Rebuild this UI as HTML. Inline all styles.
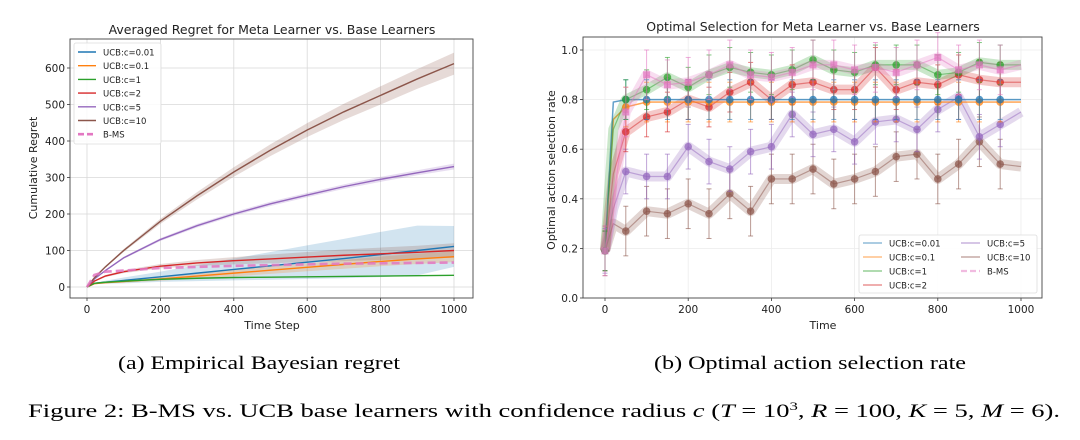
<!DOCTYPE html>
<html><head><meta charset="utf-8"><style>
html,body{margin:0;padding:0;background:#fff;}
svg{display:block;font-family:"DejaVu Sans","Liberation Sans",sans-serif;}
.cap{font-family:"Liberation Serif",serif;}
</style></head><body>
<svg id="fig" width="1080" height="440" viewBox="0 0 1080 440" xmlns="http://www.w3.org/2000/svg">
<g id="left"></g>
<g id="right"></g>
<text class="cap" x="118" y="369" font-size="19" textLength="282" lengthAdjust="spacingAndGlyphs">(a) Empirical Bayesian regret</text>
<text class="cap" x="654" y="369" font-size="19" textLength="312" lengthAdjust="spacingAndGlyphs">(b) Optimal action selection rate</text>
<text class="cap" x="28" y="417" font-size="19" textLength="1032" lengthAdjust="spacingAndGlyphs">Figure 2: B-MS vs. UCB base learners with confidence radius <tspan font-style="italic">c</tspan> (<tspan font-style="italic">T</tspan> = 10<tspan dy="-7" font-size="12">3</tspan><tspan dy="7">, </tspan><tspan font-style="italic">R</tspan> = 100, <tspan font-style="italic">K</tspan> = 5, <tspan font-style="italic">M</tspan> = 6).</text>
</svg>
<script>
// ---- Left chart data ----
const regretT = [0,20,50,100,200,300,400,500,600,700,800,900,1000];
const regretNames = ["UCB:c=0.01","UCB:c=0.1","UCB:c=1","UCB:c=2","UCB:c=5","UCB:c=10","B-MS"];
const regretC001 = [0,10,13,18,28,38,48,58,68,78,89,100,111];
const regretC01  = [0,9,12,15,22,30,38,46,54,62,70,77,83];
const regretC1   = [0,10,13,16,21,24,26,27,28,29,30,31,32];
const regretC2   = [0,16,30,42,57,66,72,77,82,87,91,95,100];
const regretC5   = [0,22,45,80,130,168,200,228,252,275,295,313,330];
const regretC10  = [0,25,55,100,180,250,315,375,430,480,525,570,612];
const regretBMS  = [0,33,42,45,52,55,58,60,62,64,65,66,67];
const bandC001   = [0,2,4,8,14,22,30,38,46,54,62,68,56];
const bandC01    = [0,1,2,3,5,7,9,10,11,12,13,14,15];
const bandC1     = [0,1,1,1,1,1,1,1,1,1,1,1,1];
const bandC2     = [0,2,3,4,6,8,10,12,14,16,17,18,20];
const bandC5     = [0,1,2,3,4,5,5,6,6,6,7,7,8];
const bandC10    = [0,1,2,4,7,10,13,16,19,22,25,27,30];
const regretYTicks = [0,100,200,300,400,500,600];
const regretXTicks = [0,200,400,600,800,1000];

// ---- Right chart data ----
const selT = [0,20,50,100,150,200,250,300,350,400,450,500,550,600,650,700,750,800,850,900,950,1000];
const selNames = ["UCB:c=0.01","UCB:c=0.1","UCB:c=1","UCB:c=2","UCB:c=5","UCB:c=10","B-MS"];
const selC001 = [0.19,0.79,0.80,0.80,0.80,0.80,0.80,0.80,0.80,0.80,0.80,0.80,0.80,0.80,0.80,0.80,0.80,0.80,0.80,0.80,0.80,0.80];
const selC01  = [0.19,0.72,0.77,0.79,0.79,0.79,0.79,0.79,0.79,0.79,0.79,0.79,0.79,0.79,0.79,0.79,0.79,0.79,0.79,0.79,0.79,0.79];
const selC1   = [0.19,0.68,0.80,0.84,0.89,0.85,0.90,0.93,0.91,0.90,0.92,0.96,0.92,0.91,0.94,0.94,0.94,0.90,0.91,0.95,0.94,0.94];
const selC2   = [0.19,0.50,0.67,0.73,0.75,0.80,0.77,0.83,0.87,0.80,0.86,0.87,0.84,0.84,0.93,0.84,0.87,0.86,0.90,0.88,0.87,0.87];
const selC5   = [0.19,0.36,0.51,0.49,0.49,0.61,0.55,0.52,0.59,0.61,0.74,0.66,0.68,0.63,0.71,0.72,0.68,0.76,0.81,0.65,0.70,0.75];
const selC10  = [0.19,0.30,0.27,0.35,0.34,0.38,0.34,0.42,0.35,0.48,0.48,0.52,0.46,0.48,0.51,0.57,0.58,0.48,0.54,0.63,0.54,0.53];
const selBMS  = [0.19,0.40,0.75,0.90,0.86,0.87,0.90,0.94,0.90,0.89,0.91,0.94,0.94,0.92,0.93,0.91,0.94,0.97,0.92,0.94,0.92,0.94];
const selErr  = [0.08,0.08,0.08,0.08,0.09,0.10,0.10];
const selYTicks = [0.0,0.2,0.4,0.6,0.8,1.0];
const selXTicks = [0,200,400,600,800,1000];

const COLORS = ["#1f77b4","#ff7f0e","#2ca02c","#d62728","#9467bd","#8c564b","#e377c2"];
const NS = "http://www.w3.org/2000/svg";
function mk(tag, attrs, parent){
  const e = document.createElementNS(NS, tag);
  for (const k in attrs) e.setAttribute(k, attrs[k]);
  parent.appendChild(e);
  return e;
}
function txt(parent, x, y, s, size, anchor, extra){
  const t = mk("text", Object.assign({x:x, y:y, "font-size":size, "text-anchor":anchor||"middle", fill:"#222"}, extra||{}), parent);
  t.textContent = s;
  return t;
}

// ===== LEFT =====
(function(){
  const g = document.getElementById("left");
  const box = {l:70, r:473, t:39, b:298};
  const xs = v => 87 + (v/1000)*(454-87);
  const ys = v => 287 - (v/600)*(287-68);
  regretXTicks.forEach(v=>{
    const l = mk("line",{x1:xs(v),x2:xs(v),y1:box.t,y2:box.b,stroke:"#d8d8d8","stroke-width":0.8},g);
    
    
    const tk = mk("line",{x1:xs(v),x2:xs(v),y1:box.b,y2:box.b+3,stroke:"#333","stroke-width":0.8},g);
    
    
    const t = txt(g, xs(v), box.b+15, String(v), 10.5);
    
    
  });
  regretYTicks.forEach(v=>{
    const l = mk("line",{x1:box.l,x2:box.r,y1:ys(v),y2:ys(v),stroke:"#d8d8d8","stroke-width":0.8},g);
    
    
    const tk = mk("line",{x1:box.l-3,x2:box.l,y1:ys(v),y2:ys(v),stroke:"#333","stroke-width":0.8},g);
    
    
    const t = txt(g, box.l-5, ys(v)+4, String(v), 10.5, "end");
    
    
  });
  const series = [regretC001,regretC01,regretC1,regretC2,regretC5,regretC10,regretBMS];
  const bands = [bandC001,bandC01,bandC1,bandC2,bandC5,bandC10,null];
  const bandColors = ["#1f77b4","#ff7f0e","#2ca02c","#8c564b","#9467bd","#8c564b",null];
  series.forEach((s,i)=>{
    if(!bands[i]) return;
    let up = regretT.map((t,j)=>xs(t)+","+ys(s[j]+bands[i][j]));
    let dn = regretT.map((t,j)=>xs(t)+","+ys(Math.max(0,s[j]-bands[i][j]))).reverse();
    const p = mk("polygon",{points:up.concat(dn).join(" "),fill:bandColors[i],"fill-opacity":i===0?0.2:0.22,stroke:"none"},g);
    
    
  });
  series.forEach((s,i)=>{
    const pts = regretT.map((t,j)=>xs(t)+","+ys(s[j])).join(" ");
    const attrs = {points:pts,fill:"none",stroke:COLORS[i],"stroke-width":i===6?2.6:1.4};
    if(i===6){attrs["stroke-dasharray"]="8,4";attrs["stroke-opacity"]=0.85;}
    const pl = mk("polyline",attrs,g);
    
    
  });
  const fr = mk("rect",{x:box.l,y:box.t,width:box.r-box.l,height:box.b-box.t,fill:"none",stroke:"#444","stroke-width":0.9},g);
  
  
  const tt = txt(g, 272, 34, "Averaged Regret for Meta Learner vs. Base Learners", 12.5);
  
  
  const xl = txt(g, 272, 329, "Time Step", 11);
  
  
  const yl = txt(g, 37, 168, "Cumulative Regret", 11, "middle", {transform:"rotate(-90 37 168)"});
  
  
  const lg = mk("g",{},g);
  
  
  mk("rect",{x:74,y:43,width:87,height:101,fill:"#fff","fill-opacity":0.85,stroke:"#ddd","stroke-width":0.8,rx:2},lg);
  regretNames.forEach((n,i)=>{
    const y = 52 + i*13.7;
    const e = mk("g",{},lg);
    
    
    const a = {x1:78,x2:96,y1:y,y2:y,stroke:COLORS[i],"stroke-width":i===6?2.6:1.4};
    if(i===6) a["stroke-dasharray"]="6,3";
    mk("line",a,e);
    txt(e, 103, y+3.5, n, 8.5, "start");
  });
})();

// ===== RIGHT =====
(function(){
  const g = document.getElementById("right");
  const box = {l:583, r:1042, t:37, b:298};
  const xs = v => 605 + (v/1000)*(1021-605);
  const ys = v => 298 - v*(298-50);
  selXTicks.forEach(v=>{
    const l = mk("line",{x1:xs(v),x2:xs(v),y1:box.t,y2:box.b,stroke:"#ececec","stroke-width":0.8},g);
    
    
    const tk = mk("line",{x1:xs(v),x2:xs(v),y1:box.b,y2:box.b+3,stroke:"#333","stroke-width":0.8},g);
    
    
    const t = txt(g, xs(v), box.b+15, String(v), 10.5);
    
    
  });
  selYTicks.forEach(v=>{
    const l = mk("line",{x1:box.l,x2:box.r,y1:ys(v),y2:ys(v),stroke:"#ececec","stroke-width":0.8},g);
    
    
    const tk = mk("line",{x1:box.l-3,x2:box.l,y1:ys(v),y2:ys(v),stroke:"#333","stroke-width":0.8},g);
    
    
    const t = txt(g, box.l-5, ys(v)+4, v.toFixed(1), 10.5, "end");
    
    
  });
  const series = [selC001,selC01,selC1,selC2,selC5,selC10,selBMS];
  const order = [5,4,3,1,0,2,6];
  order.forEach(i=>{
    const s = series[i];
    const pts = selT.map((t,j)=>xs(t)+","+ys(s[j])).join(" ");
    const wide = (i>=2);
    const a = {points:pts,fill:"none",stroke:COLORS[i],"stroke-width":wide?10:1.6,"stroke-opacity":wide?0.25:0.45,"stroke-linejoin":"round"};
    const pl = mk("polyline",a,g);
    
    
    const pl2 = mk("polyline",{points:pts,fill:"none",stroke:COLORS[i],"stroke-width":1.2,"stroke-opacity":0.5},g);
    
    
  });
  order.forEach(i=>{
    const s = series[i];
    selT.forEach((t,j)=>{
      if(t%50!==0 || t>=1000) return;
      const x = xs(t), y = ys(s[j]), e = selErr[i];
      const mg = mk("g",{},g);
      
      
      mk("line",{x1:x,x2:x,y1:ys(s[j]+e),y2:ys(s[j]-e),stroke:COLORS[i],"stroke-width":1,"stroke-opacity":0.6},mg);
      mk("line",{x1:x-2.5,x2:x+2.5,y1:ys(s[j]+e),y2:ys(s[j]+e),stroke:COLORS[i],"stroke-width":1,"stroke-opacity":0.6},mg);
      mk("line",{x1:x-2.5,x2:x+2.5,y1:ys(s[j]-e),y2:ys(s[j]-e),stroke:COLORS[i],"stroke-width":1,"stroke-opacity":0.6},mg);
      if(i===6) mk("rect",{x:x-3.5,y:y-3.5,width:7,height:7,fill:COLORS[i],"fill-opacity":0.75},mg);
      else mk("circle",{cx:x,cy:y,r:3.8,fill:COLORS[i],"fill-opacity":0.75},mg);
    });
  });
  const fr = mk("rect",{x:box.l,y:box.t,width:box.r-box.l,height:box.b-box.t,fill:"none",stroke:"#444","stroke-width":0.9},g);
  
  
  const tt = txt(g, 813, 31, "Optimal Selection for Meta Learner vs. Base Learners", 12.5);
  
  
  const xl = txt(g, 823, 329, "Time", 11);
  
  
  const yl = txt(g, 555, 170, "Optimal action selection rate", 11, "middle", {transform:"rotate(-90 555 170)"});
  
  
  const lg = mk("g",{},g);
  
  
  mk("rect",{x:859,y:235,width:178,height:58,fill:"#fff","fill-opacity":0.9,stroke:"#ddd","stroke-width":0.8,rx:2},lg);
  selNames.forEach((n,i)=>{
    const col = i<4?0:1, row = i<4?i:i-4;
    const x = col===0?863:961, y = 243 + row*14;
    const e = mk("g",{},lg);
    
    
    const a = {x1:x,x2:x+19,y1:y,y2:y,stroke:COLORS[i],"stroke-width":1.6,"stroke-opacity":0.5};
    if(i===6){a["stroke-dasharray"]="6,3";a["stroke-width"]=2.2;}
    mk("line",a,e);
    txt(e, x+26, y+3.5, n, 8.5, "start");
  });
})();
</script>
</body></html>
